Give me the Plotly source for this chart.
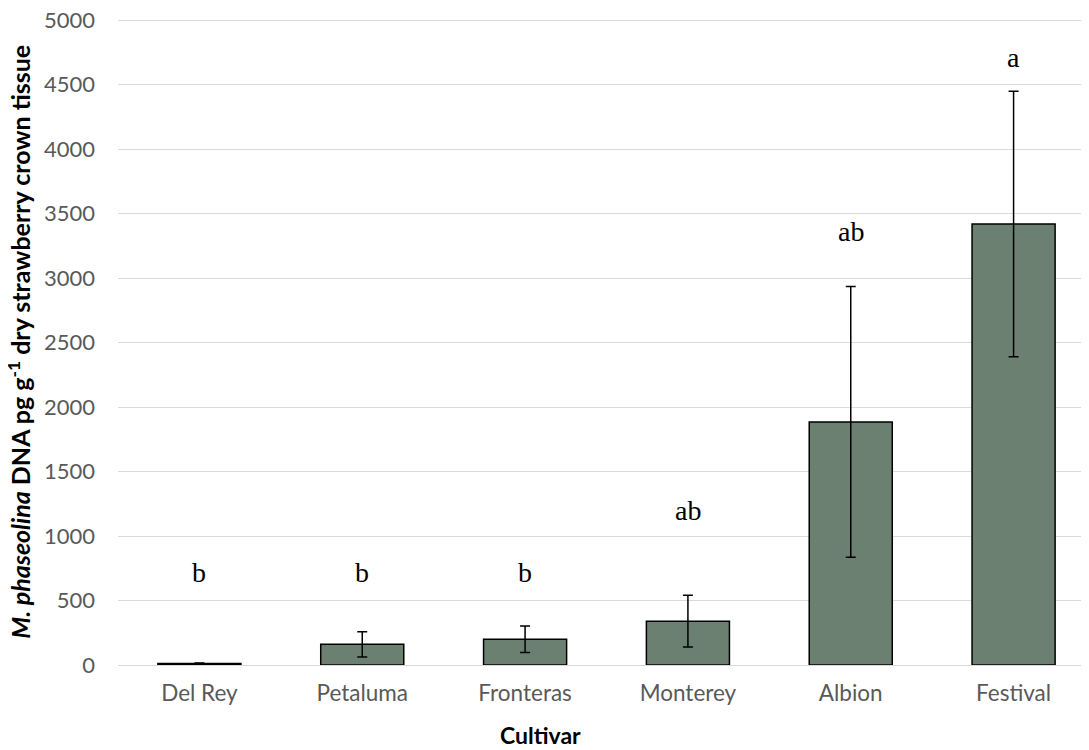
import plotly.graph_objects as go

cultivars = ["Del Rey", "Petaluma", "Fronteras", "Monterey", "Albion", "Festival"]
means = [12, 160, 200, 340, 1885, 3420]
errors = [4, 97, 103, 200, 1050, 1030]
letters = ["b", "b", "b", "ab", "ab", "a"]
letter_y = [720, 720, 720, 1200, 3360, 4715]
y_ticks = [0, 500, 1000, 1500, 2000, 2500, 3000, 3500, 4000, 4500, 5000]

fig = go.Figure()
fig.add_trace(go.Bar(
    x=cultivars, y=means, width=0.51,
    marker=dict(color="#6b8071", line=dict(color="black", width=1.5)),
    error_y=dict(type="data", array=errors, visible=True, color="black", thickness=1.5, width=5),
))
for c, l, ly in zip(cultivars, letters, letter_y):
    fig.add_annotation(x=c, y=ly, text=l, showarrow=False,
                       font=dict(family="Liberation Serif", size=28, color="black"))

# axis titles placed as paper annotations
fig.add_annotation(xref="paper", yref="paper", x=-0.101, y=0.501, textangle=-90,
                   xanchor="center", yanchor="middle",
                   text="<b><i>M. phaseolina</i> DNA pg g<sup>-1</sup> dry strawberry crown tissue</b>",
                   showarrow=False, font=dict(size=25, family="Lato", color="black"))
fig.add_annotation(xref="paper", yref="paper", x=0.432, y=-0.1085,
                   xanchor="center", yanchor="middle",
                   text="<b>Cultivar</b>", showarrow=False,
                   font=dict(size=23, family="Lato", color="black"))

fig.update_layout(
    width=1089, height=750,
    margin=dict(l=110, r=2, t=11, b=93),
    plot_bgcolor="white", paper_bgcolor="white",
    showlegend=False, bargap=0.49,
    font=dict(family="Lato", color="#595959"),
)
fig.update_xaxes(
    showgrid=False, showline=False, ticks="", automargin=False,
    tickfont=dict(size=22.5, family="Lato", color="#595959"),
    ticklabelstandoff=12,
)
fig.update_yaxes(
    range=[0, 5010], tickvals=y_ticks, showgrid=True, gridcolor="#d9d9d9", gridwidth=1.3,
    zeroline=True, zerolinecolor="#d9d9d9", zerolinewidth=1.3, showline=False, ticks="",
    automargin=False,
    tickfont=dict(size=22, family="Lato", color="#595959"),
    ticklabelstandoff=22, ticklabeloverflow="allow",
)
fig.write_html("out.html")
